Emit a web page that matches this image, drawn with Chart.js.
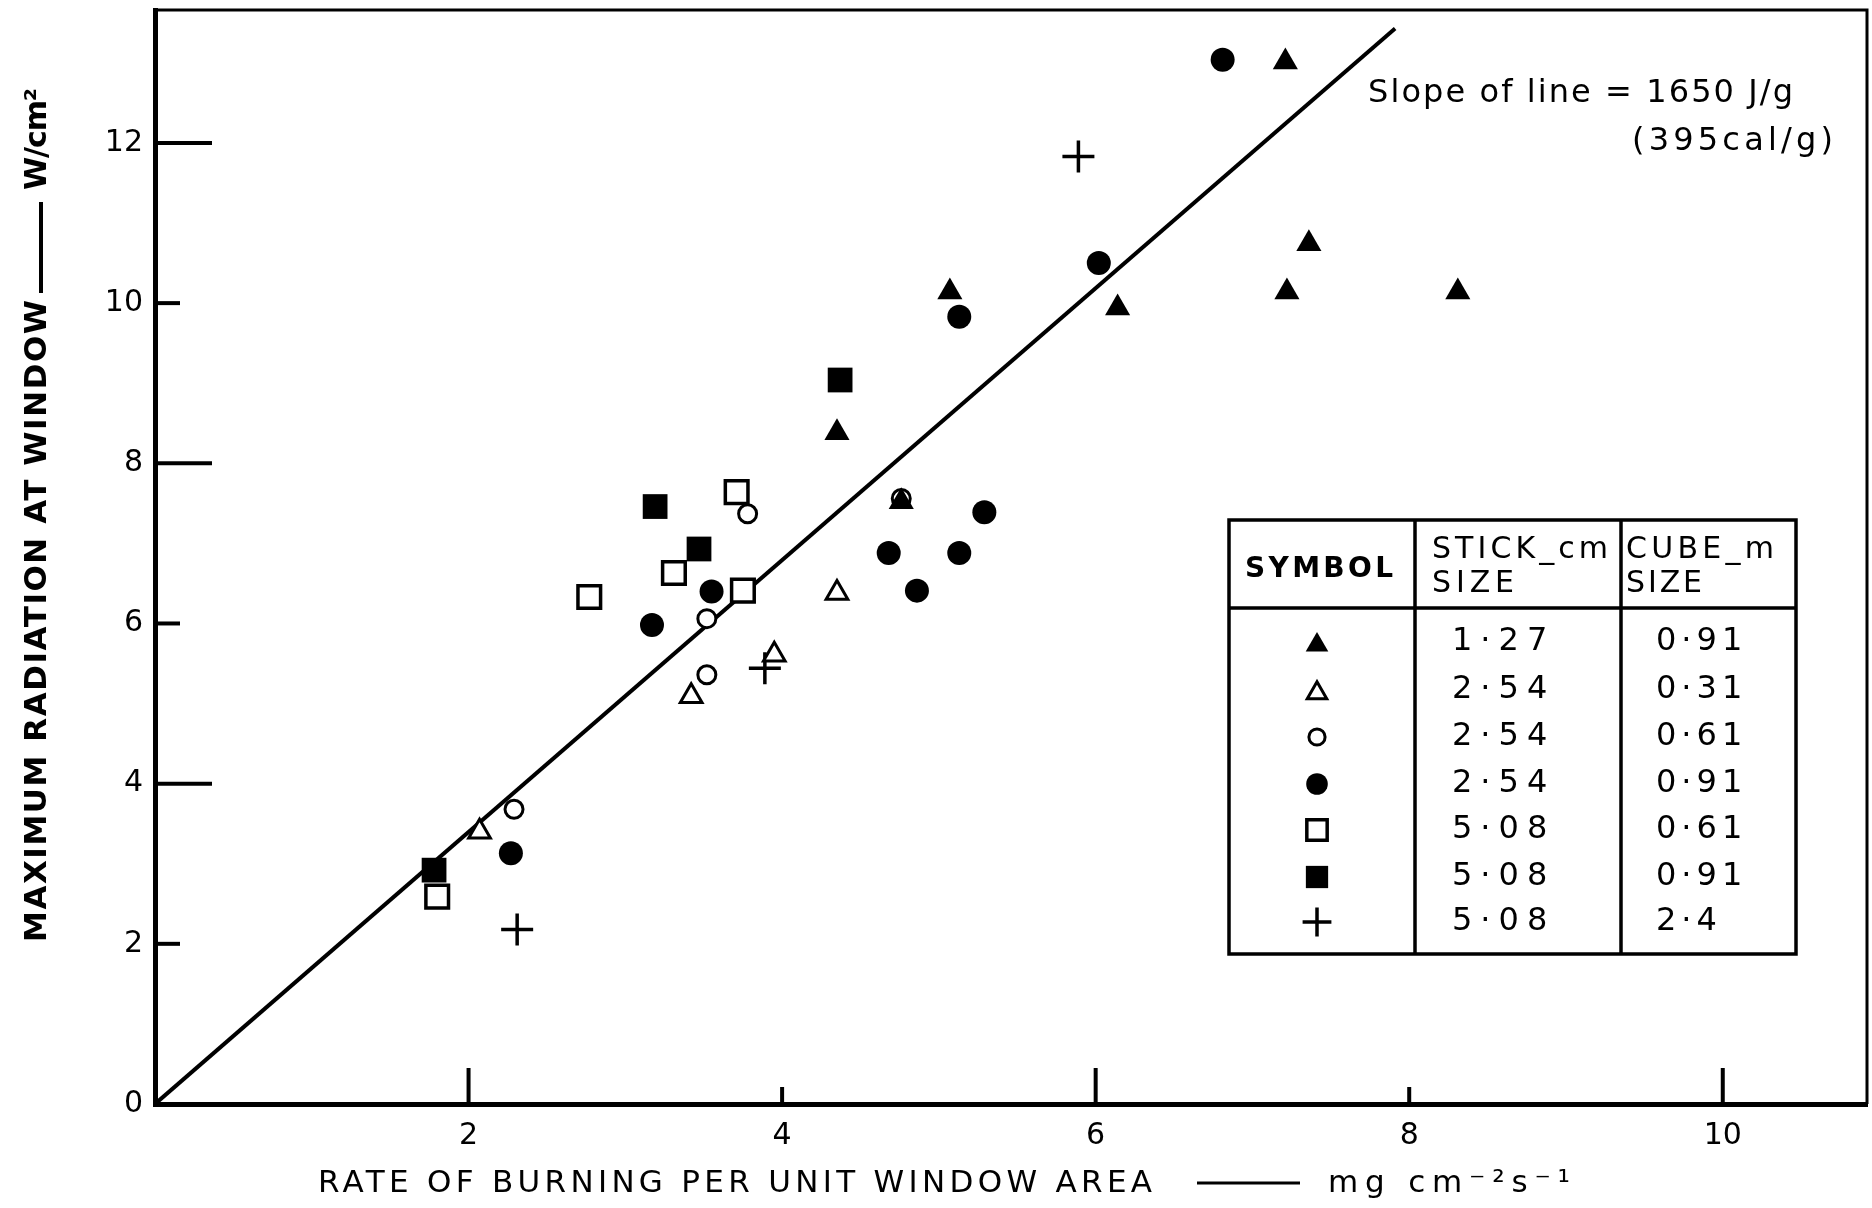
<!DOCTYPE html>
<html>
<head>
<meta charset="utf-8">
<title>Maximum radiation at window against rate of burning</title>
<script src="https://cdn.jsdelivr.net/npm/chart.js@4.4.0/dist/chart.umd.min.js"></script>
<style>
  html, body { margin: 0; padding: 0; background: #fff; }
</style>
</head>
<body>
<canvas id="chart" width="1872" height="1208"></canvas>
<script>
// rate of burning (mg cm-2 s-1) against max radiation (W/cm2), one pair per symbol
const solidTriX = [7.21, 5.07, 4.35, 6.14, 7.36, 7.22, 8.31, 4.76];
const solidTriY = [13.01, 10.14, 8.38, 9.94, 10.74, 10.14, 10.14, 7.52];
const openTriX = [2.07, 3.42, 3.95, 4.35];
const openTriY = [3.40, 5.09, 5.61, 6.38];
const openCircX = [2.29, 3.52, 3.52, 3.78, 4.76];
const openCircY = [3.68, 5.36, 6.06, 7.37, 7.56];
const solidCircX = [6.81, 6.02, 5.13, 2.27, 3.17, 3.55, 4.68, 5.13, 4.86, 5.29];
const solidCircY = [13.04, 10.50, 9.83, 3.13, 5.98, 6.40, 6.88, 6.88, 6.41, 7.39];
const openSqX = [1.80, 2.77, 3.31, 3.71, 3.75];
const openSqY = [2.59, 6.33, 6.63, 7.64, 6.41];
const solidSqX = [1.78, 3.19, 3.47, 4.37];
const solidSqY = [2.92, 7.46, 6.93, 9.04];
const crossX = [2.31, 3.89, 5.89];
const crossY = [2.18, 5.44, 11.83];

// the fitted line (slope 1650 J/g)
const lineX = [0, 7.91];
const lineY = [0, 13.43];

const xTicks = [2, 4, 6, 8, 10];
const yTicks = [0, 2, 4, 6, 8, 10, 12];

// table in the corner
const stickSize = ['1·27', '2·54', '2·54', '2·54', '5·08', '5·08', '5·08'];
const cubeSize = ['0·91', '0·31', '0·61', '0·91', '0·61', '0·91', '2·4'];

const FONT = '"DejaVu Sans", "Liberation Sans", sans-serif';

// marker looks, in table order
const styles = [
  { pointStyle: 'triangle', radius: 14.5, bg: '#000', bw: 0 },
  { pointStyle: 'triangle', radius: 12.5, bg: '#fff', bw: 3 },
  { pointStyle: 'circle', radius: 9, bg: '#fff', bw: 3 },
  { pointStyle: 'circle', radius: 12, bg: '#000', bw: 0 },
  { pointStyle: 'rect', radius: 16, bg: '#fff', bw: 3.5 },
  { pointStyle: 'rect', radius: 17.5, bg: '#000', bw: 0 },
  { pointStyle: 'cross', radius: 16, bg: '#000', bw: 3.5 }
];
const seriesX = [solidTriX, openTriX, openCircX, solidCircX, openSqX, solidSqX, crossX];
const seriesY = [solidTriY, openTriY, openCircY, solidCircY, openSqY, solidSqY, crossY];

function pts(xs, ys) {
  return xs.map((x, i) => ({ x: x, y: ys[i] }));
}

const datasets = seriesX.map((xs, i) => ({
  type: 'scatter',
  data: pts(xs, seriesY[i]),
  pointStyle: styles[i].pointStyle,
  pointRadius: styles[i].radius,
  pointBackgroundColor: styles[i].bg,
  pointBorderColor: '#000',
  pointBorderWidth: styles[i].bw,
  order: i === 0 ? 0 : 1
}));
datasets.push({
  type: 'line',
  data: pts(lineX, lineY),
  borderColor: '#000',
  borderWidth: 4,
  pointRadius: 0,
  order: 10
});

// draws text stretched to a given width (the original lettering is widely spaced)
function spaced(ctx, text, x, y, width) {
  ctx.letterSpacing = '0px';
  const w0 = ctx.measureText(text).width;
  const n = [...text].length;
  const sp = n > 1 ? (width - w0) / (n - 1) : 0;
  ctx.letterSpacing = sp + 'px';
  ctx.textAlign = 'left';
  ctx.fillText(text, x, y);
  ctx.letterSpacing = '0px';
}

// no extra room round the plot for the tick labels
function noPad(s) {
  s.paddingTop = 0;
  s.paddingBottom = 0;
  s.paddingLeft = 0;
  s.paddingRight = 0;
}

const paper = {
  id: 'paper',
  afterDraw(chart) {
    const ctx = chart.ctx;
    const a = chart.chartArea;
    const sx = chart.scales.x, sy = chart.scales.y;
    ctx.save();
    ctx.strokeStyle = '#000';
    ctx.fillStyle = '#000';

    // top and right of the frame
    ctx.lineWidth = 3;
    ctx.beginPath();
    ctx.moveTo(a.left, a.top);
    ctx.lineTo(a.right, a.top);
    ctx.lineTo(a.right, a.bottom);
    ctx.stroke();

    // tick marks point inwards, alternately long and short
    ctx.lineWidth = 4;
    xTicks.forEach((v, i) => {
      const px = sx.getPixelForValue(v);
      const len = i % 2 ? 17 : 36;
      ctx.beginPath();
      ctx.moveTo(px, a.bottom);
      ctx.lineTo(px, a.bottom - len);
      ctx.stroke();
    });
    yTicks.forEach(v => {
      if (!v) return;
      const py = sy.getPixelForValue(v);
      const len = v % 4 ? 25 : 57;
      ctx.beginPath();
      ctx.moveTo(a.left, py);
      ctx.lineTo(a.left + len, py);
      ctx.stroke();
    });

    // axis titles
    ctx.textBaseline = 'middle';
    ctx.font = '31px ' + FONT;
    spaced(ctx, 'RATE OF BURNING PER UNIT WINDOW AREA', 318, 1184, 834);
    ctx.lineWidth = 3;
    ctx.beginPath();
    ctx.moveTo(1197, 1183);
    ctx.lineTo(1300, 1183);
    ctx.stroke();
    spaced(ctx, 'mg cm⁻²s⁻¹', 1328, 1184, 242);

    ctx.save();
    ctx.translate(38, 942);
    ctx.rotate(-Math.PI / 2);
    ctx.font = 'bold 31px ' + FONT;
    spaced(ctx, 'MAXIMUM RADIATION AT WINDOW', 0, 0, 642);
    ctx.lineWidth = 4;
    ctx.beginPath();
    ctx.moveTo(649, 3);
    ctx.lineTo(740, 3);
    ctx.stroke();
    ctx.font = 'bold 30px ' + FONT;
    spaced(ctx, 'W/cm²', 752, 0, 102);
    ctx.restore();

    // slope note
    ctx.font = '32px ' + FONT;
    spaced(ctx, 'Slope of line = 1650 J/g', 1368, 94, 425);
    spaced(ctx, '(395cal/g)', 1632, 142, 201);

    // symbol table
    const L = 1229, R = 1796, T = 520, H = 608, B = 954, C1 = 1415, C2 = 1621;
    ctx.lineWidth = 3.5;
    ctx.strokeRect(L, T, R - L, B - T);
    ctx.beginPath();
    ctx.moveTo(L, H); ctx.lineTo(R, H);
    ctx.moveTo(C1, T); ctx.lineTo(C1, B);
    ctx.moveTo(C2, T); ctx.lineTo(C2, B);
    ctx.stroke();

    ctx.font = 'bold 28px ' + FONT;
    spaced(ctx, 'SYMBOL', 1245, 570, 148);
    ctx.font = '30px ' + FONT;
    spaced(ctx, 'STICK_cm', 1432, 550, 176);
    spaced(ctx, 'SIZE', 1432, 584, 82);
    spaced(ctx, 'CUBE_m', 1626, 550, 148);
    spaced(ctx, 'SIZE', 1626, 584, 76);

    const rowY = [642, 690, 737, 784, 830, 877, 922];
    ctx.font = '32px ' + FONT;
    stickSize.forEach((s, i) => {
      ctx.letterSpacing = '8px';
      ctx.textAlign = 'left';
      ctx.fillText(s, 1452, rowY[i]);
      ctx.letterSpacing = '5px';
      ctx.fillText(cubeSize[i], 1656, rowY[i]);
      ctx.letterSpacing = '0px';

      const st = styles[i];
      ctx.fillStyle = st.bg;
      ctx.strokeStyle = '#000';
      ctx.lineWidth = st.bw;
      Chart.helpers.drawPoint(ctx, { pointStyle: st.pointStyle, radius: st.radius * 0.9, rotation: 0, borderWidth: st.bw }, 1317, rowY[i] + (st.pointStyle === 'triangle' ? 3 : 0));
      ctx.fillStyle = '#000';
    });
    ctx.restore();
  }
};

const tickFont = { family: FONT, size: 30 };

new Chart(document.getElementById('chart'), {
  data: { datasets: datasets },
  options: {
    responsive: false,
    animation: false,
    events: [],
    layout: { autoPadding: false, padding: { top: 10, right: 5, left: 0, bottom: 0 } },
    plugins: { legend: { display: false }, tooltip: { enabled: false } },
    scales: {
      x: {
        type: 'linear',
        position: 'bottom',
        min: 0,
        max: 10.92,
        afterBuildTicks: s => { s.ticks = xTicks.map(v => ({ value: v })); },
        afterFit: s => { s.height = 104; noPad(s); },
        grid: { display: false, drawTicks: false },
        border: { display: true, color: '#000', width: 5 },
        ticks: { padding: 14, color: '#000', font: tickFont, maxRotation: 0, autoSkip: false }
      },
      y: {
        type: 'linear',
        position: 'left',
        min: 0,
        max: 13.66,
        afterBuildTicks: s => { s.ticks = yTicks.map(v => ({ value: v })); },
        afterFit: s => { s.width = 155; noPad(s); },
        grid: { display: false, drawTicks: false },
        border: { display: true, color: '#000', width: 5 },
        ticks: { padding: 12, color: '#000', font: tickFont, autoSkip: false }
      }
    }
  },
  plugins: [paper]
});
</script>
</body>
</html>
